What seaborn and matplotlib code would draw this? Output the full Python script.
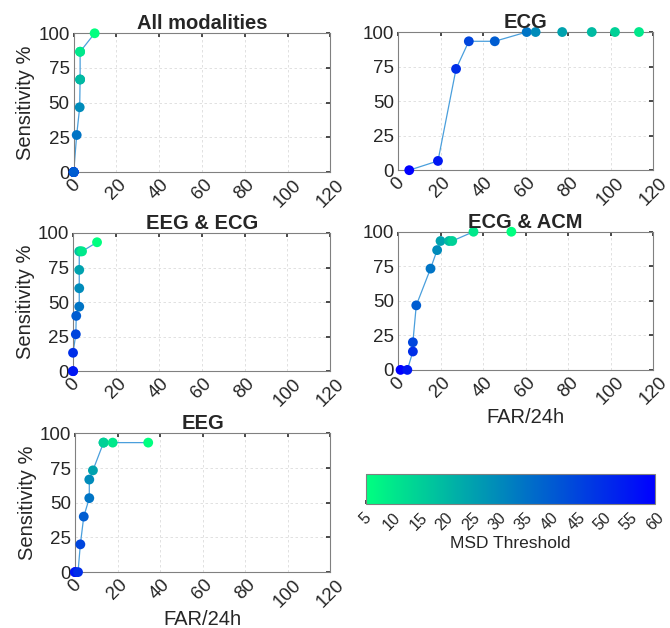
import matplotlib
matplotlib.use("Agg")
import matplotlib.pyplot as plt
import seaborn as sns
import pandas as pd

# MSD thresholds, one per point, in the order the curve is drawn
thresholds = [60, 55, 50, 45, 40, 35, 30, 25, 20, 15, 10, 5]

all_far = [0, 0, 0, 0, 0, 1.4, 2.8, 3.0, 3.0, 3.0, 3.0, 9.8]
all_sens = [0, 0, 0, 0, 0, 26.7, 46.7, 66.7, 66.7, 86.7, 86.7, 100]

ecg_far = [5.3, 18.8, 27.3, 33.3, 45.5, 60.5, 64.7, 77.2, 91.1, 102.0, 113.3, 125.0]
ecg_sens = [0, 6.7, 73.3, 93.3, 93.3, 100, 100, 100, 100, 100, 100, 100]

eegecg_far = [0, 0, 0, 1.3, 1.5, 2.9, 2.9, 2.9, 2.9, 3.5, 4.2, 11.2]
eegecg_sens = [0, 0, 13.3, 26.7, 40, 46.7, 60, 73.3, 86.7, 86.7, 86.7, 93.3]

ecgacm_far = [1.2, 4.4, 7.0, 7.0, 8.6, 15.3, 18.4, 20.0, 24.0, 25.5, 35.5, 53.3]
ecgacm_sens = [0, 0, 13.3, 20, 46.7, 73.3, 86.7, 93.3, 93.3, 93.3, 100, 100]

eeg_far = [0, 0, 1.4, 2.5, 4.1, 6.7, 6.7, 8.4, 13.4, 13.4, 17.7, 34.4]
eeg_sens = [0, 0, 0, 20, 40, 53.3, 66.7, 73.3, 93.3, 93.3, 93.3, 93.3]

x_ticks = [0, 20, 40, 60, 80, 100, 120]
y_ticks = [0, 25, 50, 75, 100]
cbar_ticks = [5, 10, 15, 20, 25, 30, 35, 40, 45, 50, 55, 60]

sns.set_theme(style="white")
plt.rcParams['font.family'] = ['Liberation Sans', 'DejaVu Sans']

fig = plt.figure(figsize=(6.7, 6.28), dpi=100)
norm = plt.Normalize(5, 60)
cmap = plt.get_cmap("winter_r")

panels = [
    ("All modalities", all_far, all_sens, [0.110, 0.726, 0.383, 0.221], True, False),
    ("ECG", ecg_far, ecg_sens, [0.594, 0.729, 0.381, 0.220], False, False),
    ("EEG & ECG", eegecg_far, eegecg_sens, [0.109, 0.409, 0.384, 0.220], True, False),
    ("ECG & ACM", ecgacm_far, ecgacm_sens, [0.594, 0.411, 0.381, 0.220], False, True),
    ("EEG", eeg_far, eeg_sens, [0.112, 0.089, 0.381, 0.221], True, True),
]

for title, far, sens, rect, ylab, xlab in panels:
    ax = fig.add_axes(rect)
    df = pd.DataFrame({"far": far, "sens": sens, "thr": thresholds})
    sns.lineplot(data=df, x="far", y="sens", sort=False, estimator=None,
                 color="#4a9fdc", lw=0.9, ax=ax, zorder=2)
    inside = df[df["far"] <= 120]
    sns.scatterplot(data=inside, x="far", y="sens", hue="thr", palette=cmap,
                    hue_norm=norm, s=50, linewidth=0, legend=False, ax=ax,
                    zorder=3, clip_on=False)
    ax.set_xlim(0, 120)
    ax.set_ylim(0, 100)
    ax.set_xticks(x_ticks)
    ax.set_yticks(y_ticks)
    ax.set_xticklabels([str(t) for t in x_ticks], rotation=45, ha="center")
    ax.grid(True, ls=(0, (3, 3)), lw=0.6, color="#dcdcdc")
    ax.tick_params(direction="in", length=3, top=True, right=True,
                   labelsize=13.5, colors="#333333", labelcolor="#262626", pad=3)
    for sp in ax.spines.values():
        sp.set_color("#808080")
        sp.set_linewidth(0.8)
    ax.set_title(title, fontsize=14.5, fontweight="bold", pad=3)
    ax.set_ylabel("Sensitivity %" if ylab else "", fontsize=14.5, color="#262626", labelpad=2)
    ax.set_xlabel("FAR/24h" if xlab else "", fontsize=14.5, color="#262626", labelpad=0)

cax = fig.add_axes([0.546, 0.197, 0.432, 0.048])
sm = plt.cm.ScalarMappable(norm=norm, cmap=cmap)
cb = fig.colorbar(sm, cax=cax, orientation="horizontal")
cb.set_ticks(cbar_ticks)
cb.set_ticklabels([str(t) for t in cbar_ticks], rotation=45)
cb.ax.tick_params(direction="in", length=3, labelsize=11.5, colors="#333333",
                  labelcolor="#262626", pad=4)
cb.outline.set_edgecolor("#808080")
cb.outline.set_linewidth(0.8)
cb.set_label("MSD Threshold", fontsize=12.5, color="#262626", labelpad=2)

fig.savefig("out.png", dpi=100)
